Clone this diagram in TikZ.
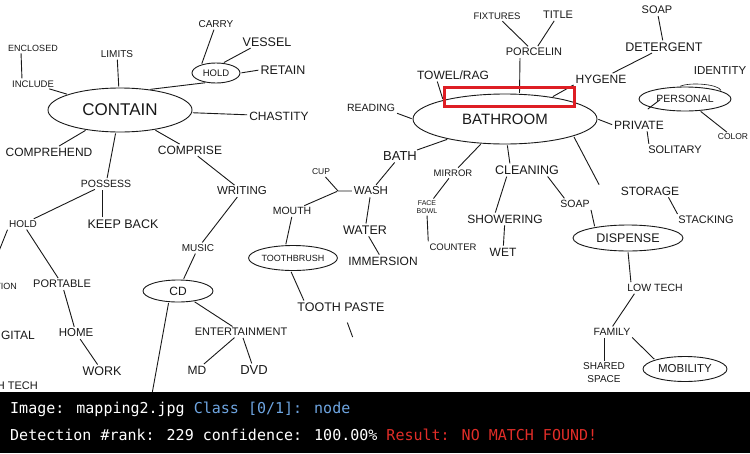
\documentclass[tikz,border=0pt]{standalone}
\usepackage{fontspec}
\setmainfont{Liberation Sans}
\newfontfamily\barfont{DejaVu Sans Mono}
\usetikzlibrary{shapes.geometric}
\definecolor{ink}{RGB}{25,25,25}
\definecolor{barblue}{RGB}{110,165,225}
\definecolor{barred}{RGB}{225,45,40}
\definecolor{selred}{RGB}{222,30,36}
\newcommand{\fsz}[1]{\fontsize{#1}{#1}\selectfont}
\begin{document}
\begin{tikzpicture}[x=1pt,y=-1pt,
  w/.style={inner sep=1pt, text=ink, font=\fsz{11}},
  oval/.style={ellipse, draw=ink, line width=0.9pt, inner sep=0pt, text=ink},
  ln/.style={draw=ink, line width=0.9pt, shorten <=1pt, shorten >=1pt},
  bartext/.style={anchor=base west, inner sep=0pt, font=\barfont\fsz{15}, text=white},
]
\useasboundingbox (0,0) rectangle (750,453);
\clip (0,0) rectangle (750,453);
\fill[white] (0,0) rectangle (750,453);

% ---------------- left cluster ----------------
\node[w,font=\fsz{10}] (carry) at (216,24) {CARRY};
\node[w,font=\fsz{12.5}] (vessel) at (267,42) {VESSEL};
\node[oval,minimum width=48pt,minimum height=20pt,font=\fsz{9.5}] (hold) at (216,73) {HOLD};
\node[w,font=\fsz{12.5}] (retain) at (283,70) {RETAIN};
\node[w,font=\fsz{10}] (limits) at (117,54) {LIMITS};
\node[w,font=\fsz{9}] (enclosed) at (33,48) {ENCLOSED};
\node[w,font=\fsz{9.5}] (include) at (33,84) {INCLUDE};
\node[oval,minimum width=144pt,minimum height=44pt,font=\fsz{17}] (contain) at (120,110) {CONTAIN};
\node[w,font=\fsz{12}] (chastity) at (279,116) {CHASTITY};
\node[w,font=\fsz{12}] (comprehend) at (49,152) {COMPREHEND};
\node[w,font=\fsz{12}] (comprise) at (190,150) {COMPRISE};
\node[w,font=\fsz{10.5}] (possess) at (106,184) {POSSESS};
\node[w,font=\fsz{11.5}] (writing) at (242,191) {WRITING};
\node[w,font=\fsz{10}] (holdb) at (23,224) {HOLD};
\node[w,font=\fsz{12.5}] (keepback) at (123,224) {KEEP BACK};
\node[w,font=\fsz{10}] (music) at (198,248) {MUSIC};
\node[w,anchor=east,font=\fsz{9}] (tion) at (18,286) {RETENTION};
\node[w,font=\fsz{11}] (portable) at (62,284) {PORTABLE};
\node[w,anchor=east,font=\fsz{12}] (digital) at (36,335) {DIGITAL};
\node[w,font=\fsz{11.5}] (home) at (76,333) {HOME};
\node[w,font=\fsz{12.5}] (work) at (102,371) {WORK};
\node[w,anchor=east,font=\fsz{11}] (hitech) at (39,386) {HIGH TECH};
\node[oval,minimum width=70pt,minimum height=22pt,font=\fsz{12}] (cd) at (178,291) {CD};
\node[w,font=\fsz{11}] (ent) at (241,332) {ENTERTAINMENT};
\node[w,font=\fsz{12}] (md) at (197,370) {MD};
\node[w,font=\fsz{13}] (dvd) at (254,370) {DVD};
\coordinate (tionend) at (-3,256);
\coordinate (cdend) at (152,394);

% ---------------- middle cluster ----------------
\node[w,font=\fsz{8.5}] (cup) at (321,172) {CUP};
\node[w,font=\fsz{11.5}] (wash) at (371,191) {WASH};
\node[w,font=\fsz{10.5}] (mouth) at (292,211) {MOUTH};
\node[w,font=\fsz{13}] (bath) at (400,156) {BATH};
\node[w,font=\fsz{12.5}] (water) at (365,230) {WATER};
\node[oval,minimum width=84pt,minimum height=25pt,font=\fsz{9}] (toothbrush) at (293,258) {TOOTHBRUSH};
\node[w,font=\fsz{12}] (immersion) at (383,261) {IMMERSION};
\node[w,font=\fsz{12.5}] (toothpaste) at (341,307) {TOOTH PASTE};
\coordinate (jn) at (338,191);
\coordinate (tpend) at (353,338);

% ---------------- right cluster ----------------
\node[w,font=\fsz{9.5}] (fixtures) at (497,16) {FIXTURES};
\node[w,font=\fsz{11}] (title) at (558,15) {TITLE};
\node[w,font=\fsz{11}] (porcelin) at (534,52) {PORCELIN};
\node[w,font=\fsz{11}] (soapt) at (657,10) {SOAP};
\node[w,font=\fsz{12.5}] (detergent) at (664,47) {DETERGENT};
\node[w,font=\fsz{12}] (towel) at (453,75) {TOWEL/RAG};
\node[w,font=\fsz{12}] (hygene) at (601,79) {HYGENE};
\node[w,font=\fsz{11.5}] (identity) at (720,71) {IDENTITY};
\node[w,font=\fsz{10.5}] (reading) at (371,108) {READING};
\node[oval,minimum width=184pt,minimum height=50pt,font=\fsz{15}] (bathroom) at (505,119) {BATHROOM};
\node[oval,minimum width=92pt,minimum height=24pt,font=\fsz{10.5}] (personal) at (685,99) {PERSONAL};
\node[w,font=\fsz{12}] (private) at (639,125) {PRIVATE};
\node[w,font=\fsz{8.5}] (color) at (733,137) {COLOR};
\node[w,font=\fsz{11}] (solitary) at (675,150) {SOLITARY};
\node[w,font=\fsz{9.5}] (mirror) at (453,173) {MIRROR};
\node[w,font=\fsz{12.5}] (cleaning) at (527,170) {CLEANING};
\node[w,font=\fsz{12}] (storage) at (650,191) {STORAGE};
\node[w,align=center,font=\fontsize{7}{8}\selectfont] (faceb) at (427,207) {FACE\\BOWL};
\node[w,font=\fsz{12}] (showering) at (505,219) {SHOWERING};
\node[w,font=\fsz{10.5}] (soapm) at (575,204) {SOAP};
\node[w,font=\fsz{11}] (stacking) at (706,220) {STACKING};
\node[w,font=\fsz{9.5}] (counter) at (453,247) {COUNTER};
\node[w,font=\fsz{12}] (wet) at (503,252) {WET};
\node[oval,minimum width=110pt,minimum height=26pt,font=\fsz{12.5}] (dispense) at (628,238) {DISPENSE};
\node[w,font=\fsz{10.5}] (lowtech) at (655,288) {LOW TECH};
\node[w,font=\fsz{10.5}] (family) at (612,332) {FAMILY};
\node[w,align=center,font=\fontsize{10}{13}\selectfont] (shared) at (604,373) {SHARED\\SPACE};
\node[oval,minimum width=84pt,minimum height=25pt,font=\fsz{11.5}] (mobility) at (685,369) {MOBILITY};

% ---------------- connectors: left ----------------
\draw[ln] (carry.250) -- (hold.150);
\draw[ln] (vessel.200) -- (hold.55);
\draw[ln] (retain.west) -- (hold.east);
\draw[ln] (hold.225) -- (contain.35);
\draw[ln] (limits) -- (contain);
\draw[ln] ([xshift=-12pt]enclosed.south) -- ([xshift=-11pt]include.north);
\draw[ln] (include) -- (contain);
\draw[ln] (chastity) -- (contain);
\draw[ln] (comprehend) -- (contain);
\draw[ln] (comprise) -- (contain);
\draw[ln] (possess) -- (contain);
\draw[ln] (writing) -- (comprise);
\draw[ln] (holdb) -- (possess);
\draw[ln] ([xshift=-21pt]keepback.north) -- ([xshift=-4pt]possess.south);
\draw[ln] (music) -- (writing);
\draw[ln] (holdb) -- (portable);
\draw[ln] (holdb.south west) -- (tionend);
\draw[ln] (home) -- (portable);
\draw[ln] (work) -- (home);
\draw[ln] (cd) -- (music);
\draw[ln] (ent) -- (cd);
\draw[ln] (md) -- (ent);
\draw[ln] (dvd) -- (ent);
\draw[ln] (cd.230) -- (cdend);

% ---------------- connectors: middle ----------------
\draw[ln] (bath) -- (bathroom);
\draw[ln] (mirror) -- (bathroom);
\draw[ln] (wash) -- (bath);
\draw[ln] (cup) -- (jn) -- (wash);
\draw[ln] (mouth) -- (jn);
\draw[ln] (water) -- (wash);
\draw[ln] (immersion) -- (water);
\draw[ln] (faceb) -- (mirror);
\draw[ln] (faceb.south) -- (counter.north west);
\draw[ln] (toothbrush.120) -- (mouth.south);
\draw[ln] (toothbrush.-100) -- ([xshift=8pt]toothpaste.north west);
\draw[ln] ([xshift=6pt,yshift=-9pt]toothpaste.south) -- (tpend);

% ---------------- connectors: right ----------------
\draw[ln] (fixtures) -- (porcelin);
\draw[ln] (title) -- (porcelin);
\draw[ln] ([xshift=-14pt]porcelin.south) -- (bathroom.60);
\draw[ln] (soapt) -- (detergent);
\draw[ln] (detergent) -- (hygene);
\draw[ln] (hygene.south west) -- (bathroom.25);
\draw[ln] ([xshift=-16pt]towel.south) -- (bathroom.163);
\draw[ln] (reading.south east) -- (bathroom.west);
\draw[ln] (private.west) -- (bathroom.east);
\draw[ln] ([xshift=8pt]private.south) -- ([xshift=-26pt]solitary.north);
\draw[ln] ([xshift=8pt,yshift=10pt]private.north) -- ([xshift=-24pt]personal.center);
\draw[ln] (color) -- (personal);
\draw[ln,line width=0.6pt] (personal.115) .. controls (690,82) and (718,84) .. (personal.12);
\draw[ln] (bathroom.-14) -- ([xshift=-20pt]storage.north west);
\draw[ln] (bathroom.-85) -- ([xshift=-17pt]cleaning.north);
\draw[ln] ([xshift=-10pt]showering.north) -- ([xshift=-20pt]cleaning.south);
\draw[ln] ([xshift=-10pt]soapm.north) -- ([xshift=20pt]cleaning.south);
\draw[ln] (wet) -- (showering);
\draw[ln] (soapm.south east) -- (dispense.162);
\draw[ln] ([xshift=18pt]storage.south) -- ([xshift=-28pt]stacking.north);
\draw[ln] (dispense.south) -- ([xshift=-24pt]lowtech.north);
\draw[ln] ([xshift=-20pt]lowtech.south) -- (family.north);
\draw[ln] ([xshift=-8pt]family.south) -- (shared.north);
\draw[ln] (family.south east) -- (mobility.north west);

% ---------------- selection box ----------------
\node[draw=selred, line width=3pt, minimum width=130pt, minimum height=19pt, inner sep=0pt] (sel) at (509,96.5) {};

% ---------------- status bar ----------------
\fill[black] (0,392) rectangle (750,453);
\node[bartext] (l1) at (10,413) {Image: mapping2.jpg \textcolor{barblue}{Class [0/1]: node}};
\node[bartext] (l2) at (10,440) {Detection \#rank: 229 confidence: 100.00\% \textcolor{barred}{Result: NO MATCH FOUND!}};
\end{tikzpicture}
\end{document}
